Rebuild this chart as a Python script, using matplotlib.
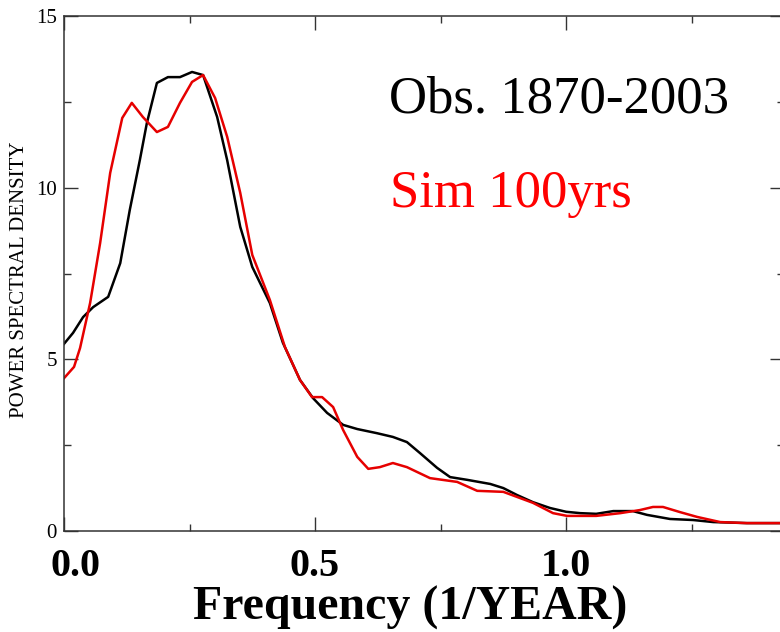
import matplotlib.pyplot as plt
from matplotlib.ticker import MultipleLocator
import matplotlib.transforms as mtransforms

# Observed spectrum (black)
obs_freq = [0.0, 0.018, 0.038, 0.058, 0.088, 0.112, 0.131, 0.151, 0.165, 0.185,
            0.207, 0.231, 0.255, 0.277, 0.305, 0.325, 0.351, 0.375, 0.41, 0.436,
            0.47, 0.496, 0.524, 0.556, 0.584, 0.623, 0.655, 0.683, 0.709, 0.743,
            0.769, 0.803, 0.849, 0.875, 0.902, 0.934, 0.968, 1.0, 1.028, 1.06,
            1.094, 1.133, 1.161, 1.207, 1.253, 1.293, 1.36, 1.43]
obs_psd = [5.45, 5.77, 6.23, 6.52, 6.82, 7.8, 9.35, 10.8, 11.88, 13.05,
           13.22, 13.22, 13.37, 13.28, 12.06, 10.8, 8.86, 7.69, 6.64, 5.48,
           4.4, 3.87, 3.44, 3.09, 2.97, 2.85, 2.74, 2.59, 2.27, 1.84,
           1.57, 1.49, 1.37, 1.25, 1.05, 0.84, 0.67, 0.56, 0.52, 0.5,
           0.58, 0.58, 0.47, 0.35, 0.32, 0.26, 0.23, 0.23]

# Simulated spectrum (red)
sim_freq = [0.0, 0.02, 0.032, 0.052, 0.072, 0.092, 0.116, 0.135, 0.157, 0.185,
            0.207, 0.231, 0.255, 0.277, 0.301, 0.325, 0.351, 0.375, 0.41, 0.44,
            0.47, 0.494, 0.514, 0.536, 0.556, 0.584, 0.606, 0.629, 0.655, 0.683,
            0.729, 0.783, 0.823, 0.875, 0.934, 0.974, 1.002, 1.06, 1.108, 1.147,
            1.173, 1.193, 1.227, 1.261, 1.307, 1.36, 1.43]
sim_psd = [4.45, 4.78, 5.33, 6.64, 8.39, 10.43, 12.03, 12.47, 12.06, 11.62,
           11.77, 12.47, 13.08, 13.28, 12.61, 11.48, 9.85, 8.04, 6.73, 5.36,
           4.4, 3.9, 3.9, 3.61, 2.94, 2.16, 1.81, 1.86, 1.98, 1.86,
           1.54, 1.43, 1.17, 1.14, 0.82, 0.52, 0.44, 0.44, 0.52, 0.61,
           0.7, 0.7, 0.55, 0.41, 0.26, 0.23, 0.23]

x_ticks = [0.0, 0.5, 1.0]
x_ticklabels = ['0.0', '0.5', '1.0']
y_ticks = [0, 5, 10, 15]

serif = 'Liberation Serif'

fig = plt.figure(figsize=(7.8, 6.32), dpi=100)
ax = fig.add_axes([64 / 780, 101 / 632, 720 / 780, 515 / 632])

ax.plot(obs_freq, obs_psd, color='black', lw=1.8)
ax.plot(sim_freq, sim_psd, color='#e60000', lw=1.8)

ax.set_xlim(0, 1.434)
ax.set_ylim(0, 15)

ax.set_xticks(x_ticks)
ax.set_xticklabels(x_ticklabels, fontfamily=serif, fontweight='bold', fontsize=29)
ax.xaxis.set_minor_locator(MultipleLocator(0.25))
ax.set_yticks(y_ticks)
ax.yaxis.set_minor_locator(MultipleLocator(2.5))
for lab in ax.get_yticklabels():
    lab.set_fontfamily(serif)
    lab.set_fontsize(15)

ax.tick_params(which='both', direction='in', top=True, right=True, color='#333333', width=1.0)
ax.tick_params(which='major', length=10)
ax.tick_params(which='minor', length=5)
ax.tick_params(axis='x', pad=12)
ax.tick_params(axis='y', pad=5)

# first bold label sits a bit to the right of its tick
first = ax.get_xticklabels()[0]
first.set_transform(first.get_transform() + mtransforms.ScaledTranslation(0.12, 0, fig.dpi_scale_trans))

for s in ax.spines.values():
    s.set_color('#333333')
    s.set_linewidth(1.1)

ax.text(0.648, 12.2, 'Obs. 1870-2003', fontfamily=serif, fontsize=38, color='black')
ax.text(0.65, 9.44, 'Sim 100yrs', fontfamily=serif, fontsize=38, color='#ff0000')

fig.text(410 / 780, 12 / 632, 'Frequency (1/YEAR)', fontfamily=serif, fontweight='bold',
         fontsize=34.5, ha='center', va='baseline')
fig.text(20 / 780, 352 / 632, 'POWER SPECTRAL DENSITY', fontfamily=serif, fontsize=15,
         rotation=90, ha='center', va='center')

fig.savefig('out.png', dpi=100)
